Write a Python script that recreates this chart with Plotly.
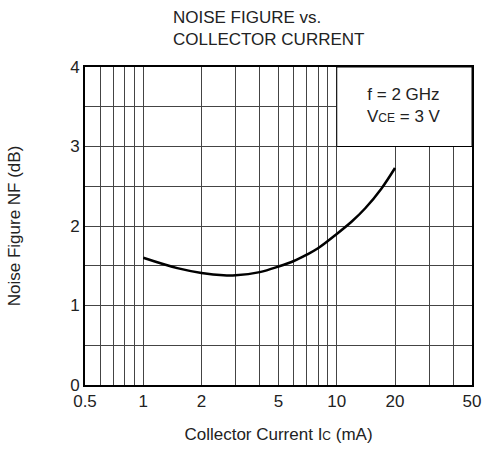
import plotly.graph_objects as go

# Data
current_ma = [1.0, 1.5, 2.0, 2.6, 3.0, 4.0, 5.0, 6.0, 7.0, 8.0, 10.0, 12.0, 14.0, 17.0, 20.0]
noise_figure_db = [1.60, 1.47, 1.41, 1.38, 1.38, 1.42, 1.49, 1.56, 1.64, 1.72, 1.90, 2.06, 2.22, 2.47, 2.73]

x_grid = [0.5, 0.6, 0.7, 0.8, 0.9, 1, 2, 3, 4, 5, 6, 7, 8, 9, 10, 20, 30, 40, 50]
x_labels = {0.5: "0.5", 1: "1", 2: "2", 5: "5", 10: "10", 20: "20", 50: "50"}
y_grid = [0, 0.5, 1, 1.5, 2, 2.5, 3, 3.5, 4]
y_labels = {0: "0", 1: "1", 2: "2", 3: "3", 4: "4"}

FONT = "Liberation Sans"
TXT = "#222"
FS = 17

fig = go.Figure()
fig.add_trace(go.Scatter(
    x=current_ma, y=noise_figure_db, mode="lines",
    line=dict(color="black", width=2.5, shape="spline", smoothing=1.0),
    showlegend=False, hoverinfo="skip",
))

# white condition box hiding the grid in the upper-right cell block
fig.add_shape(type="rect", xref="x", yref="y", x0=10, x1=50, y0=3, y1=4,
              fillcolor="white", line=dict(color="black", width=1), layer="above")
fig.add_annotation(
    x=0.5 * (1 + 1.69897), xref="x", y=3.52, yref="y",
    text="f = 2 GHz<br>V<span style='font-size:12px'>CE</span> = 3 V",
    showarrow=False, font=dict(family=FONT, size=FS, color=TXT),
    xanchor="center", yanchor="middle", align="center",
)

fig.update_layout(
    width=482, height=450,
    margin=dict(l=85, r=10, t=67, b=65, autoexpand=False),
    paper_bgcolor="white", plot_bgcolor="white",
    font=dict(family=FONT, size=FS, color=TXT),
    title=dict(
        text="NOISE FIGURE vs.<br>COLLECTOR CURRENT",
        x=173 / 482, xanchor="left", xref="container",
        y=1 - 23 / 450, yanchor="middle", yref="container",
        font=dict(family=FONT, size=FS, color=TXT),
    ),
)

fig.update_xaxes(
    type="log", range=[-0.30103, 1.69897], automargin=False,
    tickvals=x_grid, ticktext=[x_labels.get(v, "") for v in x_grid],
    showgrid=True, gridcolor="#444", gridwidth=1,
    showline=True, linecolor="black", linewidth=2, mirror=True,
    ticks="", tickfont=dict(size=FS, color=TXT),
    title=dict(text="Collector Current I<span style='font-size:12px'>C</span> (mA)",
               font=dict(size=FS, color=TXT), standoff=18),
    zeroline=False,
)
fig.update_yaxes(
    range=[0, 4], automargin=False,
    tickvals=y_grid, ticktext=[y_labels.get(v, "") for v in y_grid],
    showgrid=True, gridcolor="#444", gridwidth=1,
    showline=True, linecolor="black", linewidth=2, mirror=True,
    ticks="", tickfont=dict(size=FS, color=TXT),
    title=dict(text="Noise Figure NF (dB)", font=dict(size=FS, color=TXT), standoff=45),
    zeroline=False,
)

fig.write_html("out.html")
